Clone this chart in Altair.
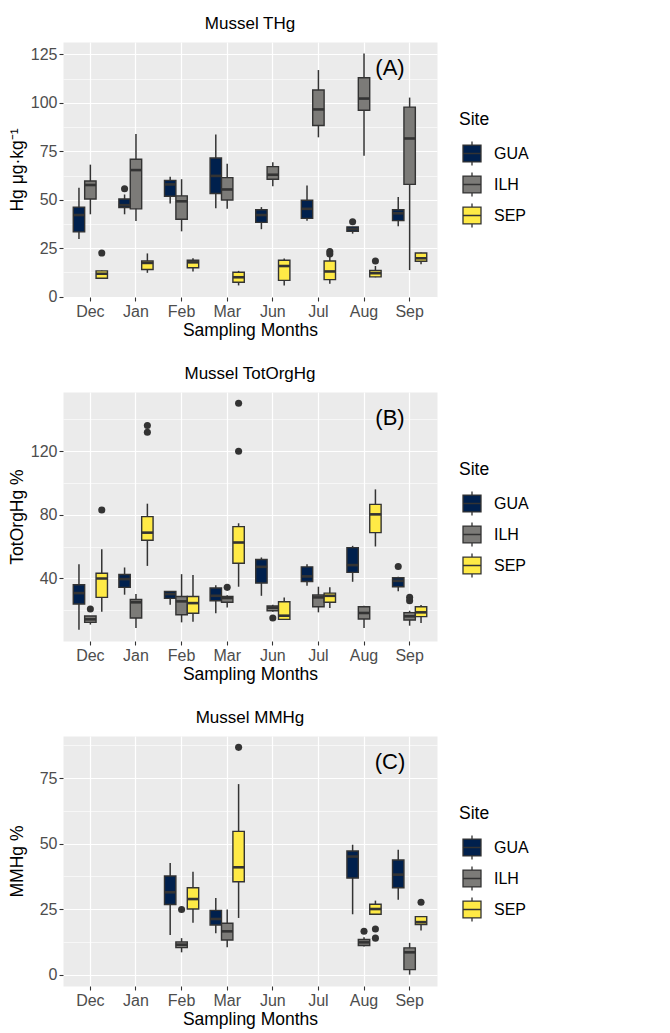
import altair as alt
import pandas as pd

FONT = "Liberation Sans, Arial, sans-serif"

months = ["Dec", "Jan", "Feb", "Mar", "Jun", "Jul", "Aug", "Sep"]
sites = ["GUA", "ILH", "SEP"]
site_colors = ["#00204D", "#7C7B78", "#FFEA46"]

# ---------- Panel A: Mussel THg (box stats) ----------
thg_month = ["Dec", "Dec", "Dec", "Jan", "Jan", "Jan", "Feb", "Feb", "Feb", "Mar", "Mar", "Mar",
             "Jun", "Jun", "Jun", "Jul", "Jul", "Jul", "Aug", "Aug", "Aug", "Sep", "Sep", "Sep"]
thg_site = ["GUA", "ILH", "SEP"] * 8
thg_lo = [29.8, 42.5, 9.1, 42.5, 39.0, 12.3, 48.1, 33.7, 13.0, 45.6, 45.3, 5.8,
          34.8, 56.9, 5.8, 39.2, 82.2, 6.7, 32.5, 72.7, 10.0, 36.3, 13.7, 16.7]
thg_q1 = [33.4, 50.4, 9.5, 46.0, 45.3, 14.0, 51.8, 39.9, 14.9, 53.2, 49.9, 7.4,
          38.3, 60.6, 8.4, 40.4, 88.3, 8.8, 33.7, 96.2, 10.2, 39.2, 57.9, 18.3]
thg_med = [42.1, 57.6, 11.8, 47.2, 65.3, 17.4, 57.9, 49.2, 17.7, 62.3, 55.3, 10.0,
           42.1, 62.9, 15.8, 45.3, 96.6, 13.0, 34.8, 102.2, 12.1, 43.0, 81.6, 19.8]
thg_q3 = [46.2, 59.7, 13.3, 50.4, 70.9, 18.4, 60.0, 52.0, 18.8, 71.5, 61.4, 12.6,
          44.8, 67.1, 18.8, 49.7, 106.6, 18.4, 36.0, 112.9, 13.5, 44.8, 97.8, 22.5]
thg_hi = [56.2, 68.1, 13.5, 52.7, 83.9, 22.3, 61.8, 60.6, 19.8, 83.7, 68.6, 13.3,
          46.2, 69.3, 19.7, 57.4, 116.9, 20.7, 36.0, 125.4, 15.8, 51.4, 102.7, 22.8]
thg_out_month = ["Dec", "Jan", "Jul", "Jul", "Aug", "Aug"]
thg_out_site = ["SEP", "GUA", "SEP", "SEP", "GUA", "SEP"]
thg_out_value = [22.5, 55.7, 23.3, 22.0, 38.6, 18.4]

# ---------- Panel B: Mussel TotOrgHg ----------
tot_month = thg_month
tot_site = thg_site
tot_lo = [7.8, 11.0, 19.1, 29.8, 8.9, 47.9, 23.5, 12.4, 12.8, 18.1, 21.8, 34.8,
          29.1, 19.1, 13.9, 35.4, 18.7, 21.4, 37.9, 8.9, 60.1, 31.9, 10.3, 12.0]
tot_q1 = [23.9, 12.4, 28.1, 34.4, 15.1, 64.0, 27.5, 17.2, 18.1, 26.0, 25.0, 49.6,
          37.1, 19.7, 14.3, 38.1, 22.2, 25.0, 43.8, 14.5, 68.8, 34.8, 13.9, 16.0]
tot_med = [30.8, 14.3, 40.0, 39.6, 25.0, 68.8, 30.2, 25.6, 24.5, 29.1, 27.7, 62.6,
           47.3, 21.6, 16.6, 41.3, 28.1, 29.1, 48.4, 18.3, 80.3, 38.5, 16.2, 18.7]
tot_q3 = [36.0, 16.4, 43.3, 42.5, 26.8, 78.9, 31.9, 28.7, 28.7, 34.0, 28.7, 72.6,
          51.9, 22.7, 25.4, 47.3, 29.6, 30.8, 59.4, 22.2, 86.6, 40.4, 18.5, 22.2]
tot_hi = [49.0, 16.4, 58.4, 46.9, 30.2, 87.0, 31.9, 42.7, 42.1, 35.8, 29.5, 74.7,
          53.2, 23.5, 28.1, 49.0, 34.8, 34.4, 60.5, 22.9, 96.0, 41.0, 19.7, 23.3]
tot_out_month = ["Dec", "Dec", "Jan", "Jan", "Mar", "Mar", "Mar", "Jun", "Sep", "Sep", "Sep"]
tot_out_site = ["ILH", "SEP", "SEP", "SEP", "ILH", "SEP", "SEP", "ILH", "GUA", "ILH", "ILH"]
tot_out_value = [20.8, 83.0, 136.1, 131.9, 34.4, 150.1, 120.0, 15.1, 47.5, 28.1, 26.0]

# ---------- Panel C: Mussel MMHg ----------
mm_month = ["Feb", "Feb", "Feb", "Mar", "Mar", "Mar", "Aug", "Aug", "Aug", "Sep", "Sep", "Sep"]
mm_site = ["GUA", "ILH", "SEP"] * 4
mm_lo = [15.2, 8.6, 19.9, 15.9, 10.5, 21.7, 23.1, 10.8, 23.1, 28.6, 0.1, 16.9]
mm_q1 = [26.8, 10.4, 25.1, 19.0, 13.3, 35.5, 36.9, 11.2, 23.1, 33.2, 2.0, 19.2]
mm_med = [31.5, 11.5, 28.9, 21.3, 16.6, 41.0, 45.1, 12.4, 25.1, 38.2, 8.6, 20.1]
mm_q3 = [37.7, 12.6, 33.2, 24.6, 19.7, 54.7, 47.2, 13.5, 26.9, 43.8, 10.3, 22.2]
mm_hi = [42.6, 14.0, 39.3, 29.3, 24.9, 72.7, 49.6, 14.3, 28.3, 47.7, 12.2, 22.2]
mm_out_month = ["Feb", "Mar", "Aug", "Aug", "Aug", "Sep"]
mm_out_site = ["ILH", "SEP", "ILH", "SEP", "SEP", "SEP"]
mm_out_value = [24.9, 86.7, 16.6, 17.5, 14.0, 27.7]

LINE = "#333333"
PLOT_W = 374
LEGEND_PATH = ("M-0.75,-0.7H0.75V0.7H-0.75Z M-0.75,0H0.75 "
               "M0,-0.7V-1 M0,0.7V1")


def make_panel(month, site, lo, q1, med, q3, hi, om, osite, oval,
               title, ytitle, label, label_y, major, minor, height):
    box = pd.DataFrame({"month": month, "site": site, "lo": lo, "q1": q1,
                        "med": med, "q3": q3, "hi": hi})
    out = pd.DataFrame({"month": om, "site": osite, "value": oval})
    ann = pd.DataFrame({"month": ["Aug"], "y": [label_y], "label": [label]})

    vmin = min(min(lo), min(oval))
    vmax = max(max(hi), max(oval))
    pad = (vmax - vmin) * 0.05
    yscale = alt.Scale(domain=[vmin - pad, vmax + pad], nice=False, zero=False)
    tick_vals = sorted(major + minor)
    major_test = "indexof(" + str(major) + ", datum.value) >= 0"
    yaxis = alt.Axis(
        values=tick_vals,
        labelExpr=f"{major_test} ? datum.label : ''",
        gridWidth={"condition": {"test": major_test, "value": 1.2}, "value": 0.6},
        tickOpacity={"condition": {"test": major_test, "value": 1}, "value": 0},
        title=ytitle, titleX=-37, titleY=height / 2, titleAngle=-90,
        titleAlign="center", titleBaseline="bottom",
    )
    xenc = alt.X("month:N", scale=alt.Scale(domain=months, paddingInner=0, paddingOuter=0.1),
                 axis=alt.Axis(title="Sampling Months", bandPosition=0.5, grid=True,
                               gridWidth=1.2, labelAngle=0))
    xoff = alt.XOffset("site:N", scale=alt.Scale(domain=sites, paddingInner=0, paddingOuter=0.5))

    whisk = alt.Chart(box).mark_rule(color=LINE, strokeWidth=1.5).encode(
        x=xenc, xOffset=xoff,
        y=alt.Y("lo:Q", scale=yscale, axis=yaxis), y2="hi:Q")
    bars = alt.Chart(box).mark_bar(stroke=LINE, strokeWidth=1.4, opacity=1).encode(
        x=xenc, xOffset=xoff,
        y=alt.Y("q1:Q", scale=yscale, axis=yaxis), y2="q3:Q",
        color=alt.Color("site:N", scale=alt.Scale(domain=sites, range=site_colors),
                        legend=alt.Legend(title="Site", orient="none", legendX=396, legendY=69,
                                          symbolType=LEGEND_PATH, symbolSize=576,
                                          symbolStrokeColor=LINE, symbolStrokeWidth=1.3,
                                          symbolOpacity=1, rowPadding=1, labelOffset=9,
                                          titlePadding=12)))
    meds = alt.Chart(box).mark_tick(color=LINE, thickness=2.6, size=11.4, opacity=1).encode(
        x=xenc, xOffset=xoff, y=alt.Y("med:Q", scale=yscale, axis=yaxis))
    pts = alt.Chart(out).mark_circle(color=LINE, size=50, opacity=1).encode(
        x=xenc, xOffset=xoff, y=alt.Y("value:Q", scale=yscale, axis=yaxis))
    txt = alt.Chart(ann).mark_text(fontSize=22, dx=26, font=FONT, color="black").encode(
        x=xenc, y=alt.Y("y:Q", scale=yscale, axis=yaxis), text="label:N")

    return alt.layer(whisk, bars, meds, pts, txt).properties(
        width=PLOT_W, height=height,
        title=alt.TitleParams(title, fontSize=17, font=FONT, fontWeight="normal",
                              anchor="middle", offset=9, color="black"))


pA = make_panel(thg_month, thg_site, thg_lo, thg_q1, thg_med, thg_q3, thg_hi,
                thg_out_month, thg_out_site, thg_out_value,
                "Mussel THg", "Hg μg·kg⁻¹", "(A)", 118,
                [0, 25, 50, 75, 100, 125], [12.5, 37.5, 62.5, 87.5, 112.5], 255)
pB = make_panel(tot_month, tot_site, tot_lo, tot_q1, tot_med, tot_q3, tot_hi,
                tot_out_month, tot_out_site, tot_out_value,
                "Mussel TotOrgHg", "TotOrgHg %", "(B)", 141,
                [40, 80, 120], [20, 60, 100, 140], 249)
pC = make_panel(mm_month, mm_site, mm_lo, mm_q1, mm_med, mm_q3, mm_hi,
                mm_out_month, mm_out_site, mm_out_value,
                "Mussel MMHg", "MMHg %", "(C)", 81,
                [0, 25, 50, 75], [12.5, 37.5, 62.5, 87.5], 250)

chart = alt.vconcat(pA, pB, pC, spacing=25).resolve_scale(
    x="independent", y="independent", color="independent", xOffset="independent"
).resolve_legend(color="independent").properties(
    padding={"left": 7, "top": 14, "right": 5, "bottom": 5}
).configure_view(
    fill="#EBEBEB", stroke="transparent"
).configure_axis(
    labelFont=FONT, labelFontSize=16, labelColor="#4D4D4D",
    titleFont=FONT, titleFontSize=17.5, titleColor="black", titleFontWeight="normal",
    tickColor=LINE, tickSize=4, tickWidth=1.1, domain=False, gridColor="white",
    labelPadding=2, titlePadding=2
).configure_legend(
    labelFont=FONT, labelFontSize=16, labelColor="black",
    titleFont=FONT, titleFontSize=17.5, titleColor="black", titleFontWeight="normal"
)

chart.save("out.html", embed_options={"renderer": "svg", "actions": False})
